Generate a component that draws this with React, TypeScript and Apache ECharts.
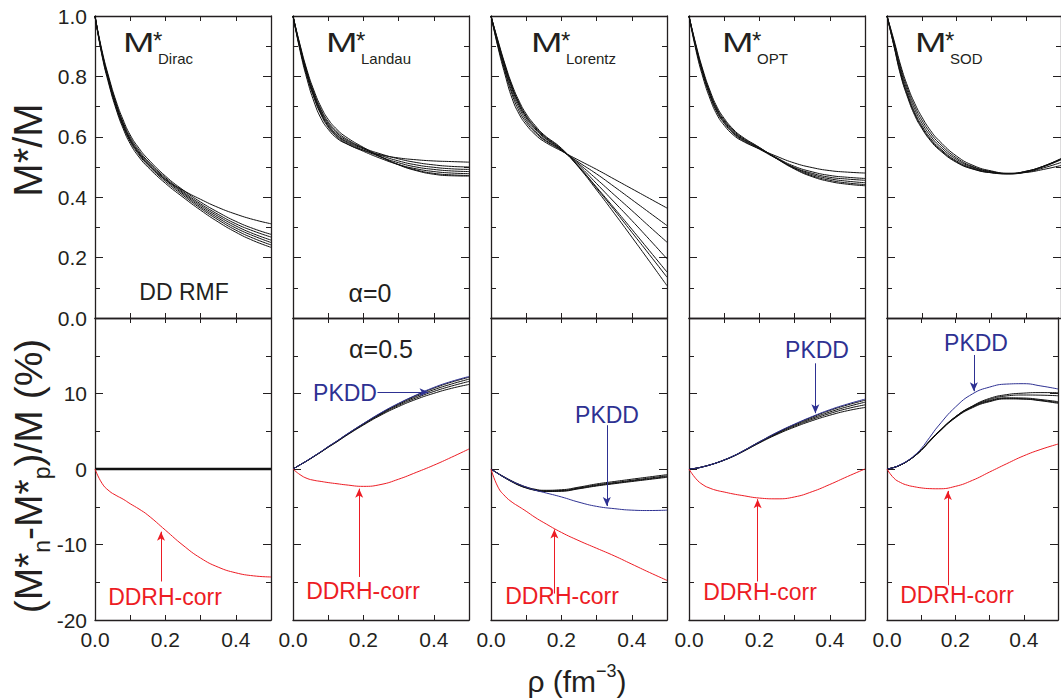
import React, { useEffect, useRef } from 'react';
import * as echarts from 'echarts';

// density grid (fm^-3)
const RHO = [0, 0.02, 0.04, 0.06, 0.08, 0.1, 0.125, 0.15, 0.2, 0.25, 0.3, 0.35, 0.4, 0.45, 0.5];

// ---- top row: M*/M ----
const DIRAC_CURVES = [
  [1, 0.875, 0.78, 0.7, 0.636, 0.588, 0.544, 0.51, 0.458, 0.423, 0.393, 0.366, 0.344, 0.326, 0.312],
  [1, 0.885, 0.795, 0.718, 0.656, 0.606, 0.562, 0.527, 0.47, 0.424, 0.384, 0.35, 0.32, 0.296, 0.277],
  [1, 0.88, 0.789, 0.711, 0.648, 0.599, 0.555, 0.52, 0.465, 0.419, 0.378, 0.343, 0.312, 0.288, 0.268],
  [1, 0.878, 0.786, 0.707, 0.644, 0.594, 0.55, 0.516, 0.461, 0.415, 0.373, 0.337, 0.305, 0.279, 0.258],
  [1, 0.876, 0.783, 0.703, 0.64, 0.59, 0.546, 0.512, 0.457, 0.411, 0.368, 0.331, 0.298, 0.272, 0.25],
  [1, 0.872, 0.777, 0.697, 0.634, 0.584, 0.54, 0.506, 0.452, 0.406, 0.363, 0.325, 0.291, 0.264, 0.242],
  [1, 0.868, 0.771, 0.691, 0.627, 0.577, 0.533, 0.5, 0.446, 0.4, 0.357, 0.318, 0.284, 0.256, 0.234],
];
const LANDAU_CURVES = [
  [1, 0.885, 0.79, 0.715, 0.66, 0.625, 0.595, 0.578, 0.555, 0.54, 0.53, 0.524, 0.52, 0.518, 0.516],
  [1, 0.9, 0.81, 0.74, 0.685, 0.645, 0.612, 0.59, 0.563, 0.543, 0.527, 0.515, 0.507, 0.502, 0.5],
  [1, 0.895, 0.805, 0.735, 0.68, 0.64, 0.607, 0.586, 0.56, 0.538, 0.52, 0.507, 0.499, 0.494, 0.492],
  [1, 0.893, 0.802, 0.732, 0.676, 0.636, 0.604, 0.583, 0.556, 0.533, 0.514, 0.5, 0.492, 0.487, 0.485],
  [1, 0.89, 0.8, 0.728, 0.672, 0.632, 0.6, 0.579, 0.552, 0.528, 0.508, 0.494, 0.485, 0.48, 0.478],
  [1, 0.9, 0.815, 0.745, 0.69, 0.65, 0.617, 0.594, 0.562, 0.533, 0.508, 0.49, 0.479, 0.474, 0.472],
  [1, 0.905, 0.82, 0.752, 0.698, 0.658, 0.624, 0.6, 0.565, 0.534, 0.507, 0.488, 0.476, 0.471, 0.47],
];
const LORENTZ_CURVES = [
  [1, 0.895, 0.805, 0.727, 0.675, 0.64, 0.608, 0.585, 0.553, 0.522, 0.492, 0.46, 0.428, 0.396, 0.364],
  [1, 0.9, 0.815, 0.74, 0.685, 0.648, 0.615, 0.59, 0.555, 0.515, 0.477, 0.435, 0.392, 0.349, 0.306],
  [1, 0.905, 0.82, 0.748, 0.695, 0.655, 0.62, 0.593, 0.556, 0.51, 0.46, 0.408, 0.356, 0.303, 0.251],
  [1, 0.91, 0.828, 0.757, 0.703, 0.662, 0.626, 0.598, 0.557, 0.505, 0.445, 0.384, 0.323, 0.26, 0.196],
  [1, 0.912, 0.832, 0.762, 0.708, 0.667, 0.63, 0.601, 0.558, 0.5, 0.433, 0.364, 0.294, 0.223, 0.152],
  [1, 0.915, 0.836, 0.766, 0.712, 0.67, 0.633, 0.604, 0.56, 0.5, 0.43, 0.358, 0.284, 0.21, 0.135],
  [1, 0.918, 0.84, 0.772, 0.718, 0.676, 0.638, 0.607, 0.562, 0.498, 0.424, 0.347, 0.268, 0.188, 0.107],
];
const OPT_CURVES = [
  [1, 0.885, 0.795, 0.725, 0.672, 0.638, 0.607, 0.587, 0.56, 0.535, 0.513, 0.498, 0.488, 0.483, 0.48],
  [1, 0.895, 0.808, 0.738, 0.684, 0.648, 0.615, 0.593, 0.562, 0.53, 0.502, 0.484, 0.472, 0.466, 0.462],
  [1, 0.892, 0.804, 0.734, 0.68, 0.645, 0.612, 0.59, 0.559, 0.527, 0.498, 0.479, 0.466, 0.46, 0.456],
  [1, 0.898, 0.812, 0.742, 0.688, 0.652, 0.618, 0.595, 0.562, 0.528, 0.497, 0.475, 0.461, 0.453, 0.448],
  [1, 0.9, 0.815, 0.746, 0.692, 0.656, 0.622, 0.598, 0.564, 0.528, 0.495, 0.471, 0.456, 0.447, 0.442],
  [1, 0.904, 0.82, 0.752, 0.698, 0.661, 0.626, 0.601, 0.565, 0.527, 0.493, 0.468, 0.452, 0.443, 0.438],
];
const SOD_CURVES = [
  [1, 0.9, 0.8, 0.728, 0.67, 0.628, 0.587, 0.557, 0.515, 0.492, 0.481, 0.478, 0.486, 0.503, 0.528],
  [1, 0.905, 0.81, 0.738, 0.68, 0.637, 0.595, 0.564, 0.52, 0.495, 0.482, 0.478, 0.485, 0.502, 0.525],
  [1, 0.91, 0.818, 0.747, 0.69, 0.646, 0.603, 0.571, 0.525, 0.498, 0.484, 0.479, 0.486, 0.503, 0.527],
  [1, 0.915, 0.826, 0.756, 0.7, 0.656, 0.612, 0.579, 0.53, 0.5, 0.485, 0.478, 0.483, 0.497, 0.515],
  [1, 0.92, 0.834, 0.765, 0.71, 0.666, 0.621, 0.587, 0.536, 0.504, 0.487, 0.479, 0.482, 0.492, 0.505],
  [1, 0.902, 0.805, 0.733, 0.675, 0.632, 0.59, 0.56, 0.517, 0.493, 0.481, 0.477, 0.484, 0.501, 0.524],
];

// ---- bottom row: (M*n - M*p)/M (%) ----
const DIRAC_SPLIT = [
  [0, 0, 0, 0, 0, 0, 0, 0, 0, 0, 0, 0, 0, 0, 0],
];
const LANDAU_SPLIT = [
  [0, 0.55, 1.1, 1.7, 2.3, 2.95, 3.7, 4.5, 6.0, 7.4, 8.65, 9.75, 10.7, 11.5, 12.15],
  [0, 0.55, 1.1, 1.7, 2.3, 2.93, 3.68, 4.47, 5.95, 7.33, 8.55, 9.6, 10.5, 11.25, 11.9],
  [0, 0.55, 1.1, 1.68, 2.28, 2.9, 3.65, 4.43, 5.9, 7.25, 8.42, 9.42, 10.27, 10.98, 11.6],
  [0, 0.55, 1.08, 1.66, 2.25, 2.87, 3.6, 4.38, 5.82, 7.14, 8.27, 9.23, 10.02, 10.68, 11.2],
];
const LORENTZ_SPLIT = [
  [0, -0.6, -1.15, -1.65, -2.1, -2.45, -2.75, -2.9, -2.85, -2.5, -2.1, -1.8, -1.5, -1.2, -0.9],
  [0, -0.62, -1.2, -1.72, -2.18, -2.52, -2.82, -2.98, -2.95, -2.62, -2.25, -1.95, -1.66, -1.38, -1.1],
  [0, -0.58, -1.1, -1.6, -2.03, -2.38, -2.68, -2.82, -2.75, -2.4, -1.98, -1.66, -1.35, -1.05, -0.75],
  [0, -0.6, -1.17, -1.68, -2.14, -2.48, -2.78, -2.94, -2.9, -2.56, -2.18, -1.88, -1.58, -1.3, -1.0],
];
const OPT_SPLIT = [
  [0, 0.1, 0.3, 0.55, 0.85, 1.2, 1.7, 2.3, 3.6, 4.82, 5.9, 6.88, 7.75, 8.48, 9.1],
  [0, 0.1, 0.3, 0.55, 0.85, 1.2, 1.7, 2.28, 3.55, 4.75, 5.8, 6.73, 7.55, 8.25, 8.85],
  [0, 0.1, 0.3, 0.55, 0.84, 1.18, 1.67, 2.25, 3.5, 4.67, 5.68, 6.57, 7.35, 8.0, 8.5],
  [0, 0.1, 0.3, 0.54, 0.83, 1.17, 1.65, 2.22, 3.45, 4.58, 5.55, 6.4, 7.12, 7.72, 8.15],
];
const SOD_SPLIT = [
  [0, 0.2, 0.55, 1.05, 1.7, 2.5, 3.7, 4.85, 6.85, 8.2, 9.0, 9.35, 9.3, 9.1, 8.8],
  [0, 0.2, 0.55, 1.05, 1.68, 2.47, 3.65, 4.8, 6.78, 8.12, 8.92, 9.28, 9.25, 9.03, 8.7],
  [0, 0.2, 0.56, 1.07, 1.72, 2.53, 3.75, 4.9, 6.92, 8.28, 9.08, 9.43, 9.4, 9.2, 8.92],
  [0, 0.2, 0.55, 1.05, 1.7, 2.5, 3.7, 4.87, 6.9, 8.35, 9.35, 9.85, 10.05, 10.12, 10.1],
  [0, 0.2, 0.55, 1.05, 1.7, 2.5, 3.7, 4.86, 6.88, 8.3, 9.22, 9.68, 9.8, 9.78, 9.7],
];
// PKDD (blue) per panel, Dirac panel has none
const PKDD_LANDAU = [0, 0.55, 1.12, 1.72, 2.32, 2.97, 3.72, 4.52, 6.02, 7.45, 8.7, 9.8, 10.8, 11.6, 12.25];
const PKDD_LORENTZ = [0, -0.6, -1.15, -1.65, -2.05, -2.4, -2.8, -3.1, -3.7, -4.4, -4.95, -5.25, -5.45, -5.5, -5.45];
const PKDD_OPT = [0, 0.1, 0.3, 0.55, 0.85, 1.2, 1.7, 2.3, 3.6, 4.85, 5.95, 6.95, 7.85, 8.6, 9.25];
const PKDD_SOD = [0, 0.2, 0.6, 1.1, 1.8, 2.7, 4.2, 5.7, 8.2, 9.95, 10.85, 11.25, 11.3, 11.0, 10.6];
// DDRH-corr (red)
const DDRH_DIRAC = [0, -1.9, -2.9, -3.5, -4.0, -4.6, -5.3, -6.1, -8.1, -10.1, -11.8, -13.0, -13.75, -14.15, -14.3];
const DDRH_LANDAU = [0, -0.75, -1.25, -1.5, -1.65, -1.8, -1.95, -2.1, -2.3, -2.05, -1.35, -0.45, 0.5, 1.55, 2.65];
const DDRH_LORENTZ = [0, -2.4, -3.6, -4.4, -5.0, -5.6, -6.4, -7.1, -8.4, -9.5, -10.5, -11.5, -12.6, -13.7, -14.75];
const DDRH_OPT = [0, -1.3, -2.1, -2.55, -2.85, -3.05, -3.3, -3.5, -3.85, -3.95, -3.7, -3.0, -2.05, -1.0, 0.0];
const DDRH_SOD = [0, -1.2, -1.8, -2.15, -2.35, -2.5, -2.6, -2.62, -2.3, -1.5, -0.4, 0.7, 1.75, 2.6, 3.3];

// annotation arrows in data coordinates [[x1,y1],[x2,y2]]
const BLUE_ARROWS = [
  null,
  [[0.24, 10.16], [0.385, 10.16]],
  [[0.329, 5.8], [0.329, -4.9]],
  [[0.359, 14.0], [0.359, 7.4]],
  [[0.254, 15.1], [0.254, 10.3]],
];
const RED_ARROWS = [
  [[0.1875, -14.9], [0.1875, -8.3]],
  [[0.188, -14.3], [0.188, -2.6]],
  [[0.18, -16.5], [0.18, -8.0]],
  [[0.195, -14.9], [0.195, -4.0]],
  [[0.178, -15.4], [0.178, -2.9]],
];

const TOP_CURVES = [DIRAC_CURVES, LANDAU_CURVES, LORENTZ_CURVES, OPT_CURVES, SOD_CURVES];
const SPLIT_CURVES = [DIRAC_SPLIT, LANDAU_SPLIT, LORENTZ_SPLIT, OPT_SPLIT, SOD_SPLIT];
const PKDD = [null, PKDD_LANDAU, PKDD_LORENTZ, PKDD_OPT, PKDD_SOD];
const DDRH = [DDRH_DIRAC, DDRH_LANDAU, DDRH_LORENTZ, DDRH_OPT, DDRH_SOD];
const SUBSCRIPTS = ['Dirac', 'Landau', 'Lorentz', 'OPT', 'SOD'];

// ---- layout & style ----
const FONT = '"Liberation Sans", Arial, Helvetica, sans-serif';
const INK = '#231f20';
const RED = '#ed1c24';
const BLUE = '#2e3192';
const LEFTS = [95, 293, 491, 689, 887];
const PW = 176;
const ROW_TOPS = [16, 318];
const PH = 302;
const M_LEFT = [123, 326, 531, 722, 915];

function measure(text: string, size: number): number {
  const c = document.createElement('canvas');
  const ctx = c.getContext('2d')!;
  ctx.font = `${size}px ${FONT}`;
  return ctx.measureText(text).width;
}

function pieceGroup(x: number, y: number, rotation: number, parts: any[], color: string) {
  const widths = parts.map((p) => measure(p.t, p.s));
  const total = widths.reduce((a, b) => a + b, 0);
  let cur = -total / 2;
  const children = parts.map((p, i) => {
    const el = {
      type: 'text',
      x: cur,
      y: p.dy,
      style: { text: p.t, fontSize: p.s, fontFamily: FONT, fill: color, align: 'left', verticalAlign: 'middle' },
    };
    cur += widths[i];
    return el;
  });
  return { type: 'group', x, y, rotation, children, silent: true };
}

function buildOption() {
  const grid: any[] = [];
  const xAxis: any[] = [];
  const yAxis: any[] = [];
  const series: any[] = [];
  const lineStyle = { color: INK, width: 1.3 };
  const tickStyle = { color: INK, width: 1 };

  for (let r = 0; r < 2; r++) {
    for (let c = 0; c < 5; c++) {
      const g = r * 5 + c;
      grid.push({ left: LEFTS[c], top: ROW_TOPS[r], width: PW, height: PH, show: false });
      const xBase = {
        type: 'value', gridIndex: g, min: 0, max: 0.5, interval: 0.1,
        axisLine: { show: true, onZero: false, lineStyle },
        axisTick: { show: true, inside: true, length: 5, lineStyle: tickStyle },
        splitLine: { show: false },
      };
      xAxis.push({
        ...xBase, position: 'bottom',
        axisLabel: {
          show: r === 1, margin: 9, fontSize: 21, fontFamily: FONT, color: INK,
          formatter: (v: number) => (Math.round(v * 10) % 2 === 0 && v < 0.45 ? v.toFixed(1) : ''),
        },
      });
      xAxis.push({ ...xBase, position: 'top', axisLabel: { show: false } });
      const yRange = r === 0 ? { min: 0, max: 1, interval: 0.2 } : { min: -20, max: 20, interval: 10 };
      const yBase = {
        type: 'value', gridIndex: g, ...yRange,
        axisLine: { show: true, onZero: false, lineStyle },
        axisTick: { show: true, inside: true, length: 8, lineStyle: tickStyle },
        minorTick: { show: true, splitNumber: 2, length: 5, lineStyle: tickStyle },
        splitLine: { show: false }, minorSplitLine: { show: false },
      };
      yAxis.push({
        ...yBase, position: 'left',
        axisLabel: {
          show: c === 0, margin: 8, fontSize: 21, fontFamily: FONT, color: INK,
          formatter: r === 0 ? (v: number) => v.toFixed(1) : (v: number) => (v === 20 ? '' : String(v)),
        },
      });
      yAxis.push({ ...yBase, position: 'right', axisLabel: { show: false } });

      const mk = (vals: number[], color: string, width: number, z: number, extra: any = {}) => ({
        type: 'line', xAxisIndex: 2 * g, yAxisIndex: 2 * g,
        data: RHO.map((x, i) => [x, vals[i]]),
        showSymbol: false, symbol: 'none', smooth: 0.5,
        lineStyle: { color, width }, silent: true, z, clip: true, ...extra,
      });

      if (r === 0) {
        TOP_CURVES[c].forEach((vals) => series.push(mk(vals, '#111', 1, 2)));
      } else {
        SPLIT_CURVES[c].forEach((vals) => series.push(mk(vals, '#111', c === 0 ? 2.5 : 1, 2)));
        const arrowOpt = (seg: any, color: string) => ({
          markLine: {
            silent: true, symbol: ['none', 'arrow'], symbolSize: [6, 9],
            lineStyle: { color, width: 1, type: 'solid' }, label: { show: false },
            data: [[{ coord: seg[0] }, { coord: seg[1] }]],
          },
        });
        const pk = PKDD[c];
        if (pk) series.push(mk(pk, BLUE, 1, 3, BLUE_ARROWS[c] ? arrowOpt(BLUE_ARROWS[c], BLUE) : {}));
        series.push(mk(DDRH[c], RED, 1, 4, arrowOpt(RED_ARROWS[c], RED)));
      }
    }
  }

  const graphic: any[] = [];
  // panel titles M*_xxx
  for (let c = 0; c < 5; c++) {
    graphic.push({
      type: 'text', x: M_LEFT[c], y: 42, scaleX: 1.35, silent: true,
      style: { text: 'M', fontSize: 28, fontFamily: FONT, fill: INK, align: 'left', verticalAlign: 'middle' },
    });
    graphic.push({
      type: 'text', x: M_LEFT[c] + 30, y: 40, silent: true,
      style: { text: '*', fontSize: 24, fontFamily: FONT, fill: INK, align: 'left', verticalAlign: 'middle' },
    });
    graphic.push({
      type: 'text', x: M_LEFT[c] + 35, y: 58, silent: true,
      style: { text: SUBSCRIPTS[c], fontSize: 15, fontFamily: FONT, fill: INK, align: 'left', verticalAlign: 'middle' },
    });
  }
  const labels = [
    { t: 'DD RMF', x: 184, y: 292, s: 23, c: INK },
    { t: 'α=0', x: 370, y: 293, s: 25, c: INK },
    { t: 'α=0.5', x: 381, y: 349, s: 25, c: INK },
    { t: 'PKDD', x: 345, y: 393, s: 23, c: BLUE },
    { t: 'PKDD', x: 607, y: 415, s: 23, c: BLUE },
    { t: 'PKDD', x: 817, y: 350, s: 23, c: BLUE },
    { t: 'PKDD', x: 976, y: 343, s: 23, c: BLUE },
    { t: 'DDRH-corr', x: 165, y: 597, s: 23, c: RED },
    { t: 'DDRH-corr', x: 363, y: 591, s: 23, c: RED },
    { t: 'DDRH-corr', x: 562, y: 596, s: 23, c: RED },
    { t: 'DDRH-corr', x: 760, y: 592, s: 23, c: RED },
    { t: 'DDRH-corr', x: 957, y: 595, s: 23, c: RED },
  ];
  labels.forEach((l) =>
    graphic.push({
      type: 'text', x: l.x, y: l.y, silent: true,
      style: { text: l.t, fontSize: l.s, fontFamily: FONT, fill: l.c, align: 'center', verticalAlign: 'middle' },
    })
  );
  // axis titles
  graphic.push({
    type: 'text', x: 28, y: 150, rotation: Math.PI / 2, silent: true,
    style: { text: 'M*/M', fontSize: 40, fontFamily: FONT, fill: INK, align: 'center', verticalAlign: 'middle' },
  });
  graphic.push(
    pieceGroup(28, 476, Math.PI / 2, [
      { t: '(M*', s: 39, dy: 0 },
      { t: 'n', s: 23, dy: 14 },
      { t: '-M*', s: 39, dy: 0 },
      { t: 'p', s: 23, dy: 14 },
      { t: ')/M (%)', s: 39, dy: 0 },
    ], INK)
  );
  graphic.push(
    pieceGroup(577, 681, 0, [
      { t: 'ρ (fm', s: 30, dy: 0 },
      { t: '−3', s: 18, dy: -10 },
      { t: ')', s: 30, dy: 0 },
    ], INK)
  );

  return {
    animation: false,
    backgroundColor: '#ffffff',
    grid, xAxis, yAxis, series, graphic,
  };
}

export default function App() {
  const ref = useRef<HTMLDivElement>(null);
  useEffect(() => {
    const chart = echarts.init(ref.current!, null, { renderer: 'svg' });
    chart.setOption(buildOption() as any);
    return () => chart.dispose();
  }, []);
  return (
    <div
      ref={ref}
      style={{ position: 'fixed', left: 0, top: 0, width: 1061, height: 700, background: '#fff' }}
    />
  );
}
